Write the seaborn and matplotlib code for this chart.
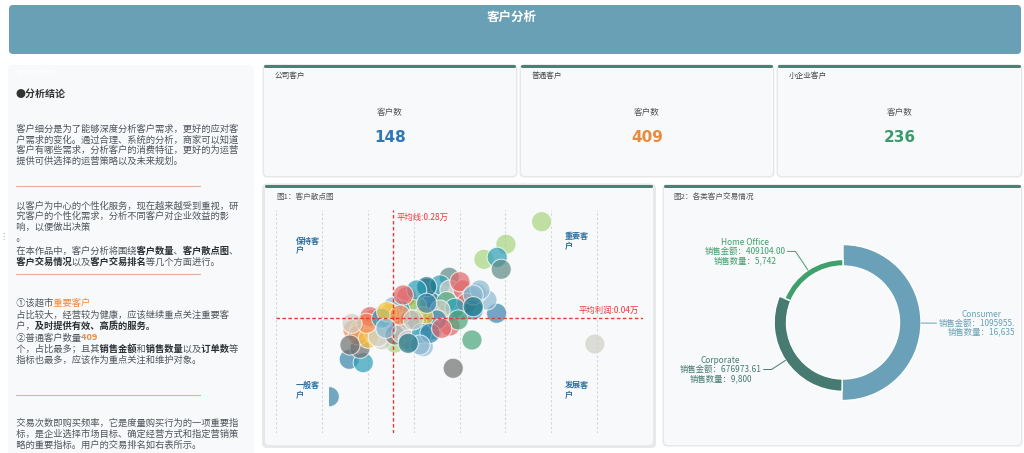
import numpy as np
import pandas as pd
import matplotlib
matplotlib.use("Agg")
import matplotlib.pyplot as plt
import seaborn as sns
from matplotlib.patches import FancyBboxPatch, Rectangle
from matplotlib.transforms import Bbox, TransformedBbox

sns.set_theme(style="white")
plt.rcParams["font.family"] = ["Noto Sans CJK SC", "DejaVu Sans"]
plt.rcParams["axes.unicode_minus"] = False

# ---------------- data ----------------
kpi_titles = ["公司客户", "普通客户", "小企业客户"]
kpi_counts = [148, 409, 236]
kpi_colors = ["#2f78b4", "#ec8a3c", "#3d9b6b"]

seg_names = ["Consumer", "Corporate", "Home Office"]
seg_sales = [1095955.26, 676973.61, 409104.00]
seg_qty = [16635, 9800, 5742]
seg_colors = ["#6aa1b8", "#477b71", "#3fa06c"]

avg_sales = 2800
avg_profit = 400

sales = [6050, 5272, 4792, 5082, 5169, 4036, 5069, 4531, 7211, 4123, 1857, 2162, 2090, 1421, 3470, 3180, 2853,
         3768, 4095, 3572, 3986, 4313, 2657, 2417, 2134, 1938, 2570, 2918, 3289, 3659, 4051, 3507, 4858,
         3544, 3834, 4051, 4341, 4633, 4524, 4415, 4559, 3108, 3616, 3326, 3980, 4160, 3834, 4232, 3762, 3470,
         2962, 2890, 3180, 2816, 2526, 2345, 2199, 2598, 2744, 2090, 2053, 2380, 2271, 2489, 2853, 2999, 3143,
         3435, 3616, 3871, 3398, 3143, 1872, 4269, 4705, 3544, 3326, 3034, 3544, 2308, 2236, 2563, 2672, 2962,
         3252, 4559, 4559, 2656, 1916]
profit = [2337, 1881, 1578, 1619, 1377, 1215, 489, -50, -131, -621, -439, -508, -218, -1194, -185, -84, -111,
          838, 838, 515, 475, 555, 394, 233, 233, 152, -50, 192, 212, 152, 233, 313, 757,
          993, 1060, 959, 959, 892, 824, 691, 555, 824, 723, 622, 723, 590, 555, 354, 354, 420,
          555, 354, 354, 622, 420, 354, 287, 253, 489, 152, 51, 117, -16, 17, 51, 85, -50,
          85, 85, 186, -151, -117, -151, 1126, 959, 1026, 959, 858, 691, 420, 287, 388, 521, 454,
          354, 858, 622, 186, 287]
grp = ["lgreen", "lgreen", "lgreen", "teal", "gteal", "gteal", "blue", "green", "lgray", "gray", "blue", "teal",
       "gray", "blue", "lblue", "dteal", "lgreen",
       "lblue", "lgray", "teal", "olive", "blue", "lgray", "gteal", "red", "orange", "lgray", "gteal", "lblue",
       "teal", "red", "green", "lblue",
       "blue", "teal", "lgray", "red", "lblue", "gteal", "red", "teal", "red", "dteal", "olive", "green", "teal",
       "lgray", "green", "blue", "yellow", "teal", "red", "gray", "lblue", "lblue", "orange", "red", "teal",
       "yellow", "yellow", "orange", "lgray", "yellow", "lgray", "gray", "lgray", "lgray", "teal", "blue", "red",
       "lblue", "dteal", "gray", "red", "lblue", "dteal", "teal", "red", "blue", "red", "orange", "teal",
       "yellow", "orange", "lgray", "lblue", "dteal", "lblue", "lgray"]
quadrant_labels = ["保持客\n户", "重要客\n户", "一般客\n户", "发展客\n户"]

palette = {"blue": "#3a84ab", "teal": "#2d9fb8", "dteal": "#1d7386", "green": "#4aa57a",
           "lgreen": "#a8d47e", "olive": "#8cbf4e", "red": "#e0676a", "orange": "#f28a55",
           "yellow": "#f6c445", "gray": "#6f7070", "gteal": "#5e8b87", "lgray": "#d0d0c8",
           "lblue": "#8dbad2"}

# ---------------- figure ----------------
W, H = 1024, 453
fig = plt.figure(figsize=(W / 100, H / 100), dpi=100)
fig.patch.set_facecolor("white")
bg = fig.add_axes([0, 0, 1, 1])
bg.set_xlim(0, W)
bg.set_ylim(H, 0)
bg.axis("off")

PANEL = "#f7f9fa"
TOP = "#4f7f73"


def panel(x0, y0, x1, y1, top=False, shadow=0):
    if shadow:
        bg.add_patch(FancyBboxPatch((x0 - shadow, y0 - shadow * 0.5), x1 - x0 + 2 * shadow,
                                    y1 - y0 + 1.5 * shadow,
                                    boxstyle="round,pad=0,rounding_size=5", fc="#e6e8ea", ec="none"))
    bg.add_patch(FancyBboxPatch((x0, y0), x1 - x0, y1 - y0, boxstyle="round,pad=0,rounding_size=4",
                                fc=PANEL, ec="none"))
    if top:
        bg.add_patch(FancyBboxPatch((x0, y0), x1 - x0, 3, boxstyle="round,pad=0,rounding_size=1.5",
                                    fc=TOP, ec="none"))


# header
bg.add_patch(FancyBboxPatch((9, 5), 1012, 49, boxstyle="round,pad=0,rounding_size=4",
                            fc="#6aa0b5", ec="none"))
bg.text(512, 17, "客户分析", color="white", fontsize=9, fontweight="bold", ha="center", va="center")

# panels
panel(8, 65, 254, 460)
cards = [(264, 516), (521, 773), (778, 1021)]
for (x0, x1) in cards:
    panel(x0, 65, x1, 176, top=True, shadow=1.5)
panel(265, 185, 653, 445, top=True, shadow=3)
panel(664, 185, 1021, 445, top=True, shadow=1.5)

# KPI cards
for (x0, x1), t, n, c in zip(cards, kpi_titles, kpi_counts, kpi_colors):
    cx = (x0 + x1) / 2
    bg.text(x0 + 11, 76, t, fontsize=5.5, color="#444", ha="left", va="center")
    bg.text(cx, 113, "客户数", fontsize=6.2, color="#555", ha="center", va="center")
    bg.text(cx, 137, f"{n}", fontsize=11, fontweight="bold", color=c, ha="center", va="center",
            family=["DejaVu Sans"])

# ---------------- left panel text ----------------
FS = 6.7
EM = FS / 72 * 100
NORM = "#50555c"
BOLD = "#2b2f33"
ORNG = "#f0883a"
SP = "\u3000"


def rich(x, y, parts):
    # one string per style; characters of the other styles become full-width spaces,
    # so all styles share the pen positions of one continuous line
    styles = []
    for _, b, c in parts:
        if (b, c) not in styles:
            styles.append((b, c))
    for b, c in styles:
        s = SP + "".join(t if (bb, cc) == (b, c) else SP * len(t) for t, bb, cc in parts)
        bg.text(x - EM, y, s.rstrip(SP), fontsize=FS, fontweight="bold" if b else "normal", color=c,
                ha="left", va="center")


def plain(x, y, s):
    rich(x, y, [(s, False, NORM)])


bg.text(16, 73, "客户分析结论", fontsize=5, color="white", ha="left", va="center")
bg.text(16, 94, "●分析结论", fontsize=7.2, fontweight="bold", color="#333", ha="left", va="center")
p1 = ["客户细分是为了能够深度分析客户需求，更好的应对客",
      "户需求的变化。通过合理、系统的分析，商家可以知道",
      "客户有哪些需求，分析客户的消费特征，更好的为运营",
      "提供可供选择的运营策略以及未来规划。"]
for i, s in enumerate(p1):
    plain(16, 129 + i * 10.7, s)
for ys in (186, 274, 395):
    bg.plot([16, 200], [ys, ys], color="#e9ad9c", lw=0.8)
p2 = ["以客户为中心的个性化服务，现在越来越受到重视，研",
      "究客户的个性化需求，分析不同客户对企业效益的影",
      "响，以便做出决策"]
for i, s in enumerate(p2):
    plain(16, 205.7 + i * 10.5, s)
plain(16, 239, "。")
rich(16, 251, [("在本作品中，客户分析将围绕", False, NORM), ("客户数量", True, BOLD), ("、", False, NORM),
               ("客户散点图", True, BOLD), ("、", False, NORM)])
rich(16, 262, [("客户交易情况", True, BOLD), ("以及", False, NORM), ("客户交易排名", True, BOLD),
               ("等几个方面进行。", False, NORM)])
rich(16, 303.5, [("①该超市", False, NORM), ("重要客户", False, ORNG)])
plain(16, 315, "占比较大，经营较为健康，应该继续重点关注重要客")
rich(16, 326.5, [("户，", False, NORM), ("及时提供有效、高质的服务。", True, BOLD)])
rich(16, 337.8, [("②普通客户数量", False, NORM), ("409", True, ORNG)])
rich(16, 349.3, [("个，占比最多；且其", False, NORM), ("销售金额", True, BOLD), ("和", False, NORM),
                 ("销售数量", True, BOLD), ("以及", False, NORM), ("订单数", True, BOLD), ("等", False, NORM)])
plain(16, 360.5, "指标也最多，应该作为重点关注和维护对象。")
p4 = ["交易次数即购买频率，它是度量购买行为的一项重要指",
      "标，是企业选择市场目标、确定经营方式和指定营销策",
      "略的重要指标。用户的交易排名如右表所示。"]
for i, s in enumerate(p4):
    plain(16, 423.3 + i * 10.8, s)
bg.text(3, 236, "⋮", fontsize=6, color="#9aa0a6", ha="center", va="center")

# ---------------- scatter ----------------
bg.text(276, 197, "图1：客户散点图", fontsize=5.5, color="#555", ha="left", va="center")
ax = fig.add_axes([276 / W, (H - 433) / H, 367 / W, 223 / H])
ax.patch.set_alpha(0)
df = pd.DataFrame({"sales": sales, "profit": profit, "grp": grp})
ax.set_xlim(260, 8260)
ax.set_ylim(-1927, 2573)
ax.set_xticks(np.arange(260, 8261, 1000))
ax.grid(axis="x", color="#d3d6d9", ls=(0, (2, 2)), lw=0.8)
ax.grid(axis="y", visible=False)
ax.set_axisbelow(True)
sns.scatterplot(data=df, x="sales", y="profit", hue="grp", palette=palette, s=210, alpha=0.7,
                edgecolor="white", linewidth=0.8, legend=False, ax=ax)
clip = Rectangle((min(sales), -1e5), 1e6, 2e5, transform=ax.transData)
ax.collections[-1].set_clip_path(clip)
ax.set_xlim(260, 8260)
ax.set_ylim(-1927, 2573)
ax.set_xlabel("")
ax.set_ylabel("")
ax.tick_params(length=0, labelbottom=False, labelleft=False)
for sp in ax.spines.values():
    sp.set_visible(False)

RED = "#e53935"
ax.axvline(avg_sales, color=RED, ls=(0, (2.5, 1.8)), lw=1.0)
ax.axhline(avg_profit, color=RED, ls=(0, (2.5, 1.8)), lw=1.0)
ax.annotate(f"平均线:{avg_sales / 10000:.2f}万", xy=(avg_sales, 1), xycoords=("data", "axes fraction"),
            xytext=(3, -5), textcoords="offset points", ha="left", va="center", color=RED, fontsize=6)
ax.annotate(f"平均利润:{avg_profit / 10000:.2f}万", xy=(1, avg_profit), xycoords=("axes fraction", "data"),
            xytext=(-3, 5), textcoords="offset points", ha="right", va="center", color=RED, fontsize=6)
qpos = [(0.0545, 0.837), (0.787, 0.859), (0.0545, 0.191), (0.787, 0.191)]
for (qx, qy), lab in zip(qpos, quadrant_labels):
    ax.text(qx, qy, lab, transform=ax.transAxes, fontsize=5.8, fontweight="bold", color="#2f6f9f",
            ha="left", va="center", linespacing=1.1)

# ---------------- donut ----------------
bg.text(673, 197, "图2：各类客户交易情况", fontsize=5.5, color="#555", ha="left", va="center")
CX, CY, HALF = 843, 322.5, 110
dax = fig.add_axes([(CX - HALF) / W, (H - CY - HALF) / H, 2 * HALF / W, 2 * HALF / H])
wedges, _ = dax.pie(seg_sales, startangle=90, counterclock=False, colors=seg_colors,
                    wedgeprops=dict(edgecolor="white", linewidth=1.0))
dax.set_xlim(-HALF, HALF)
dax.set_ylim(-HALF, HALF)
dax.set_aspect("auto")
dax.axis("off")
R_IN, T_MIN, T_MAX, R_LAB = 56.5, 6.5, 21.5, 85.5
vmax, vmin = max(seg_sales), min(seg_sales)
clipbox = TransformedBbox(Bbox([[664, 185], [1014, 445]]), bg.transData)
for w, name, v, q, c in zip(wedges, seg_names, seg_sales, seg_qty, seg_colors):
    r_out = R_IN + T_MIN + (T_MAX - T_MIN) * (v - vmin) / (vmax - vmin)
    w.set_radius(r_out)
    w.set_width(r_out - R_IN)
    th = np.deg2rad((w.theta1 + w.theta2) / 2)
    cs, sn = np.cos(th), np.sin(th)
    side = 1 if cs >= 0 else -1
    p0 = (r_out * cs, r_out * sn)
    p1 = (R_LAB * cs, R_LAB * sn)
    p2 = (p1[0] + side * 8, p1[1])
    dax.plot([p0[0], p1[0], p2[0]], [p0[1], p1[1], p2[1]], color=c, lw=0.7, clip_on=False)
    t = dax.text(p2[0] + side * 2, p2[1], f"{name}\n销售金额：{v:.2f}\n销售数量：{q:,}",
                 ha="left" if side > 0 else "right", va="center", multialignment="center",
                 fontsize=6, color=c, linespacing=1.0, clip_on=True)
    t.set_clip_box(clipbox)

fig.savefig("out.png", dpi=100, facecolor="white")
